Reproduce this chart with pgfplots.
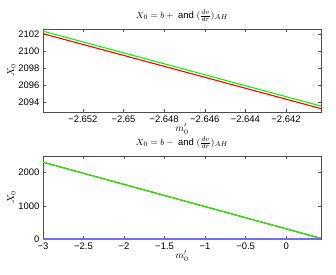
\documentclass[border=0pt]{standalone}
\usepackage{fontspec}
\setmainfont{Liberation Sans}
\usepackage{pgfplots}
\pgfplotsset{compat=1.18}
\definecolor{mblue}{RGB}{110,110,245}
\begin{document}
\begin{tikzpicture}
\useasboundingbox (-43bp,-163bp) rectangle (293bp,112bp);
\pgfplotsset{
  every axis/.append style={
    scale only axis, width=278bp, height=83bp,
    tick align=inside, major tick length=3pt,
    tick label style={font=\fontsize{9.5}{11}\selectfont},
    label style={font=\fontsize{10}{12}\selectfont},
    title style={font=\fontsize{9.5}{11}\selectfont, yshift=-2pt},
    /pgf/number format/assume math mode=true,
    /pgf/number format/1000 sep={},
    scaled ticks=false,
    axis line style={black!70},
    every tick/.style={black!70},
    xlabel={$m_0'$}, ylabel={$X_0$},
    xlabel style={yshift=5pt},
    ylabel style={yshift=-4pt},
  }
}
\begin{axis}[
  at={(0,0)}, anchor=south west,
  xmin=-2.65396, xmax=-2.64028, ymin=2092.9, ymax=2102.65,
  xtick={-2.652,-2.65,-2.648,-2.646,-2.644,-2.642},
  xticklabels={−2.652,−2.65,−2.648,−2.646,−2.644,−2.642},
  ytick={2094,2096,2098,2100,2102},
  title={$X_0=b+\ \mathrm{and}\ (\frac{dv}{dr})_{AH}$},
]
\addplot[red, line width=1.1pt] coordinates {(-2.65396,2102.1) (-2.64028,2093.3)};
\addplot[green, line width=1.1pt] coordinates {(-2.65396,2102.4) (-2.64028,2093.6)};
\end{axis}
\begin{axis}[
  at={(0,-127bp)}, anchor=south west,
  xmin=-3, xmax=0.43, ymin=0, ymax=2500,
  xtick={-3,-2.5,-2,-1.5,-1,-0.5,0},
  xticklabels={−3,−2.5,−2,−1.5,−1,−0.5,0},
  ytick={0,1000,2000},
  title={$X_0=b-\ \mathrm{and}\ (\frac{dv}{dr})_{AH}$},
  clip=false,
]
\addplot[red, line width=1.1pt] coordinates {(-3,2314) (0.43,20)};
\addplot[green, line width=1.1pt] coordinates {(-3,2314) (0.43,20)};
\addplot[mblue, line width=1.4pt] coordinates {(-3,0) (0.43,0)};
\end{axis}
\end{tikzpicture}
\end{document}
